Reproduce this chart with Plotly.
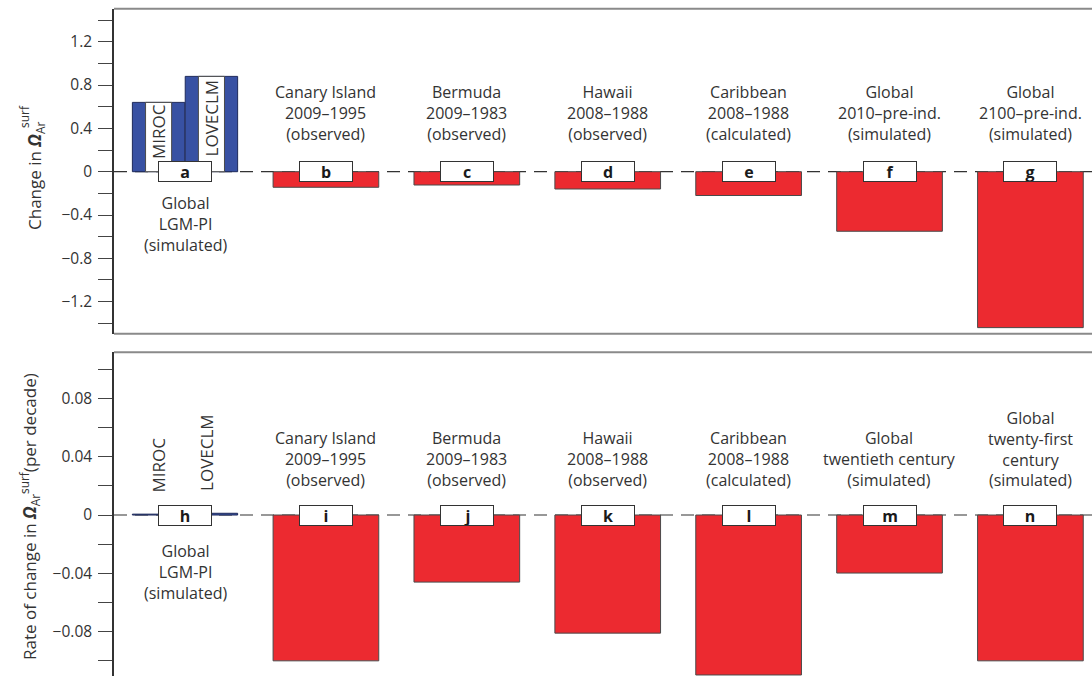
import plotly.graph_objects as go

# ---------------- data ----------------
letters_top = ["a", "b", "c", "d", "e", "f", "g"]
letters_bot = ["h", "i", "j", "k", "l", "m", "n"]

labels_top = [
    "Canary Island<br>2009–1995<br>(observed)",
    "Bermuda<br>2009–1983<br>(observed)",
    "Hawaii<br>2008–1988<br>(observed)",
    "Caribbean<br>2008–1988<br>(calculated)",
    "Global<br>2010–pre-ind.<br>(simulated)",
    "Global<br>2100–pre-ind.<br>(simulated)",
]
labels_bot = [
    "Canary Island<br>2009–1995<br>(observed)",
    "Bermuda<br>2009–1983<br>(observed)",
    "Hawaii<br>2008–1988<br>(observed)",
    "Caribbean<br>2008–1988<br>(calculated)",
    "Global<br>twentieth century<br>(simulated)",
    "Global<br>twenty-first<br>century<br>(simulated)",
]
lgm_label = "Global<br>LGM-PI<br>(simulated)"
model_names = ["MIROC", "LOVECLM"]

# change in Omega (top panel)
lgm_change = [0.64, 0.88]                       # MIROC, LOVECLM
obs_change = [-0.144, -0.123, -0.16, -0.22, -0.55, -1.44]   # b..g

# rate of change per decade (bottom panel)
lgm_rate = [0.0006, 0.0012]                     # MIROC, LOVECLM
obs_rate = [-0.100, -0.046, -0.081, -0.1097, -0.0398, -0.100]  # i..n

top_tickvals = [-1.2, -0.8, -0.4, 0, 0.4, 0.8, 1.2]
top_ticktext = ["−1.2", "−0.8", "−0.4", "0", "0.4", "0.8", "1.2"]
bot_tickvals = [-0.08, -0.04, 0, 0.04, 0.08]
bot_ticktext = ["−0.08", "−0.04", "0", "0.04", "0.08"]

# ---------------- style ----------------
RED = "#ec2a30"
BLUE = "#3851a3"
EDGE = "#4a4a4a"
TXT = "#333333"
FONT = "Open Sans"
W, H = 1092, 676
L = 114
bar_w = 0.75
sub_w = 0.372
strip_w = 0.185
xr = [-0.504, 6.437]
top_range = [-1.496, 1.505]
bot_range = [-0.1104, 0.1116]


def px(x):
    return (x - L) / (W - L)


def py(y):
    return 1 - y / H


fig = go.Figure()

cat_x = list(range(1, 7))
off = [-bar_w / 4, bar_w / 4]

for (xa, ya, vals_lgm, vals_obs, strips) in [
    ("x", "y", lgm_change, obs_change, True),
    ("x2", "y2", lgm_rate, obs_rate, False),
]:
    fig.add_trace(go.Bar(x=cat_x, y=vals_obs, width=bar_w, xaxis=xa, yaxis=ya,
                         marker=dict(color=RED, line=dict(color=EDGE, width=1)),
                         showlegend=False, hoverinfo="skip"))
    fig.add_trace(go.Bar(x=[0 + o for o in off], y=vals_lgm, width=sub_w, xaxis=xa, yaxis=ya,
                         marker=dict(color=BLUE, line=dict(color="#1e2a5a", width=1)),
                         showlegend=False, hoverinfo="skip"))
    if strips:
        fig.add_trace(go.Bar(x=[0 + o for o in off], y=vals_lgm, width=strip_w, xaxis=xa, yaxis=ya,
                             marker=dict(color="white", line=dict(color=EDGE, width=1)),
                             showlegend=False, hoverinfo="skip"))

axis_common = dict(showgrid=False, zeroline=False, ticks="outside", ticklen=14,
                   tickwidth=1.3, tickcolor="#444", showline=True, linecolor="#333",
                   linewidth=1.5, tickfont=dict(family=FONT, size=15.5, color=TXT),
                   ticklabelstandoff=3)

fig.update_layout(
    width=W, height=H,
    margin=dict(l=L, r=0, t=0, b=0),
    paper_bgcolor="white", plot_bgcolor="white",
    barmode="overlay",
    xaxis=dict(domain=[0, 1], range=xr, visible=False, anchor="y"),
    xaxis2=dict(domain=[0, 1], range=xr, visible=False, anchor="y2"),
    yaxis=dict(domain=[py(333.7), py(8.7)], range=top_range, anchor="x",
               tickvals=top_tickvals, ticktext=top_ticktext,
               minor=dict(dtick=0.2, tick0=0, ticks="outside", ticklen=14, tickcolor="#444", tickwidth=1.3),
               **axis_common),
    yaxis2=dict(domain=[0, py(352.3)], range=bot_range, anchor="x2",
                tickvals=bot_tickvals, ticktext=bot_ticktext,
                minor=dict(dtick=0.02, tick0=0, ticks="outside", ticklen=14, tickcolor="#444", tickwidth=1.3),
                **axis_common),
    font=dict(family=FONT, color=TXT),
)

shapes = []
# dashed zero lines
for xa, ya in [("x", "y"), ("x2", "y2")]:
    shapes.append(dict(type="line", xref=xa + " domain", yref=ya, x0=0, x1=1, y0=0, y1=0,
                       line=dict(color="#333", width=1.2, dash="13px,8px"), layer="below"))
# frame lines
for yv in [py(8.7), py(333.7), py(352.3)]:
    shapes.append(dict(type="line", xref="paper", yref="paper", x0=0, x1=1, y0=yv, y1=yv,
                       line=dict(color="#8a8a8a", width=2)))
fig.update_layout(shapes=shapes)

ann = []
# letter boxes
for xa, ya, letters in [("x", "y", letters_top), ("x2", "y2", letters_bot)]:
    for i, lt in enumerate(letters):
        ann.append(dict(x=i, y=0, xref=xa, yref=ya, text="<b>%s</b>" % lt, showarrow=False,
                        bgcolor="white", bordercolor="#333", borderwidth=1, borderpad=0,
                        width=52, height=19, xanchor="center", yanchor="middle",
                        font=dict(family=FONT, size=16, color="#1a1a1a")))
# category labels
for xa, ya, labs, ylab in [("x", "y", labels_top, 0.228), ("x2", "y2", labels_bot, 0.0151)]:
    for i, t in enumerate(labs):
        ann.append(dict(x=cat_x[i], y=ylab, xref=xa, yref=ya, text=t, showarrow=False,
                        xanchor="center", yanchor="bottom", align="center",
                        font=dict(family=FONT, size=16, color=TXT)))
# LGM labels
for xa, ya, ylab in [("x", "y", -0.165), ("x2", "y2", -0.0155)]:
    ann.append(dict(x=0, y=ylab, xref=xa, yref=ya, text=lgm_label, showarrow=False,
                    xanchor="center", yanchor="top", align="center",
                    font=dict(family=FONT, size=16, color=TXT)))
# model names (rotated) -- centres given
top_centres = [131.5, 118]
bot_centres = [465, 452.5]
bot_xshift = [0, -4]
for i, nm in enumerate(model_names):
    ann.append(dict(x=off[i], y=py(top_centres[i]), xref="x", yref="paper", text=nm,
                    showarrow=False, textangle=-90, xanchor="center", yanchor="middle",
                    font=dict(family=FONT, size=17, color=TXT)))
    ann.append(dict(x=off[i], y=py(bot_centres[i]), xref="x2", yref="paper", text=nm,
                    showarrow=False, textangle=-90, xanchor="center", yanchor="middle",
                    xshift=bot_xshift[i] - 1,
                    font=dict(family=FONT, size=17, color=TXT)))

# axis titles (centres given)
omega = "<b><i>Ω</i></b>"
ann.append(dict(x=px(35), y=py(176), xref="paper", yref="paper",
                text="Change in " + omega + "<sub>Ar</sub>", showarrow=False, textangle=-90,
                xanchor="center", yanchor="middle", font=dict(family=FONT, size=17, color=TXT)))
ann.append(dict(x=px(24), y=py(117), xref="paper", yref="paper", text="surf", showarrow=False,
                textangle=-90, xanchor="center", yanchor="middle",
                font=dict(family=FONT, size=12, color=TXT)))
ann.append(dict(x=px(29), y=py(517), xref="paper", yref="paper",
                text="Rate of change in " + omega + "<sub>Ar</sub><sup>surf</sup>(per decade)",
                showarrow=False, textangle=-90,
                xanchor="center", yanchor="middle", font=dict(family=FONT, size=17, color=TXT)))
fig.update_layout(annotations=ann)

fig.write_html("out.html")
